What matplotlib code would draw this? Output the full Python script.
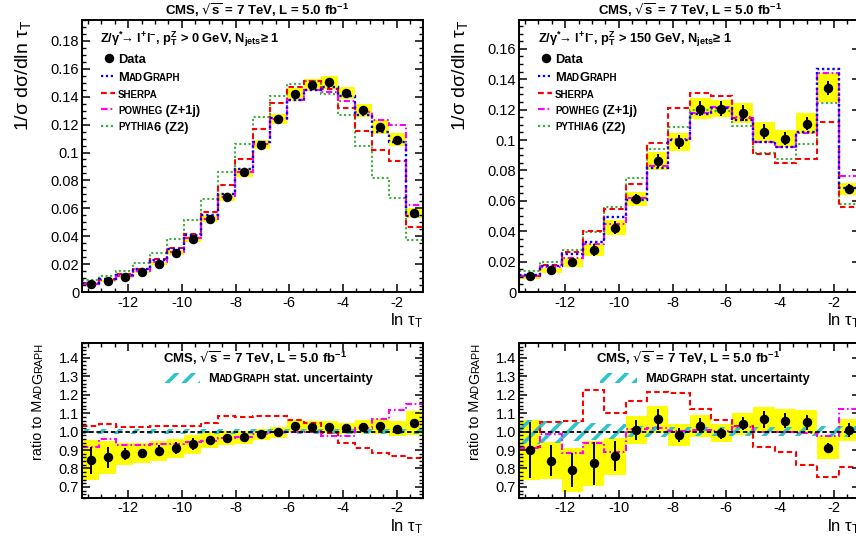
import numpy as np
import matplotlib
matplotlib.use("Agg")
import matplotlib.pyplot as plt
from matplotlib.ticker import MultipleLocator, FuncFormatter, FormatStrFormatter
from matplotlib.transforms import IdentityTransform
from matplotlib.patches import Rectangle
from matplotlib.lines import Line2D

plt.rcParams["font.family"] = ["Liberation Sans", "DejaVu Sans"]
plt.rcParams["mathtext.fontset"] = "dejavusans"
plt.rcParams["mathtext.default"] = "regular"
plt.rcParams["axes.unicode_minus"] = False
plt.rcParams["hatch.linewidth"] = 2.6
plt.rcParams["hatch.color"] = "#2ec4cc"

# binning (ln tau_T)
x_lo, x_hi = -13.72, -1.02

# ---- pT(Z) > 0 GeV, 20 bins ----
data_0 = [0.0055, 0.0077, 0.0108, 0.0143, 0.0203, 0.0282, 0.0378, 0.0526, 0.0681, 0.0858,
          0.1057, 0.1241, 0.1418, 0.1482, 0.1504, 0.1430, 0.1303, 0.1183, 0.1093, 0.0569]
stat_0 = [0.0004, 0.0005, 0.0004, 0.0003, 0.0006, 0.0009, 0.0012, 0.0010, 0.0008, 0.0009,
          0.0010, 0.0012, 0.0014, 0.0015, 0.0015, 0.0014, 0.0013, 0.0012, 0.0011, 0.0009]
sys_0 = [0.13, 0.105, 0.07, 0.062, 0.06, 0.058, 0.055, 0.045, 0.04, 0.035,
         0.032, 0.03, 0.032, 0.03, 0.03, 0.03, 0.035, 0.04, 0.04, 0.062]
mg_0 = [0.0065, 0.0090, 0.0123, 0.0162, 0.0227, 0.0310, 0.0406, 0.0551, 0.0706, 0.0885,
        0.1073, 0.1247, 0.1378, 0.1447, 0.1469, 0.1405, 0.1269, 0.1150, 0.1076, 0.0545]
sherpa_0 = [0.0067, 0.0094, 0.0126, 0.0166, 0.0234, 0.0319, 0.0418, 0.0576, 0.0766, 0.0956,
            0.1165, 0.1353, 0.1468, 0.1512, 0.1454, 0.1321, 0.1155, 0.1018, 0.0936, 0.0466]
powheg_0 = [0.0059, 0.0086, 0.0114, 0.0150, 0.0212, 0.0290, 0.0384, 0.0523, 0.0680, 0.0860,
            0.1059, 0.1241, 0.1378, 0.1447, 0.1432, 0.1370, 0.1294, 0.1231, 0.1200, 0.0627]
pythia_0 = [0.0084, 0.0117, 0.0151, 0.0210, 0.0282, 0.0383, 0.0514, 0.0669, 0.0858, 0.1059,
            0.1255, 0.1406, 0.1494, 0.1511, 0.1422, 0.1267, 0.1047, 0.0818, 0.0674, 0.0371]
# ratio to MadGraph
r_data_0 = [0.845, 0.86, 0.878, 0.885, 0.896, 0.909, 0.931, 0.955, 0.964, 0.969,
            0.985, 0.995, 1.029, 1.024, 1.024, 1.018, 1.027, 1.029, 1.016, 1.045]
r_stat_0 = [0.073, 0.057, 0.034, 0.02, 0.031, 0.032, 0.032, 0.02, 0.012, 0.01,
            0.01, 0.01, 0.01, 0.01, 0.01, 0.01, 0.01, 0.01, 0.01, 0.015]
r_sherpa_0 = [1.03, 1.04, 1.025, 1.025, 1.03, 1.03, 1.03, 1.045, 1.085, 1.08,
              1.085, 1.085, 1.065, 1.045, 0.99, 0.94, 0.91, 0.885, 0.87, 0.855]
r_powheg_0 = [0.915, 0.958, 0.927, 0.927, 0.935, 0.935, 0.945, 0.95, 0.963, 0.972,
              0.987, 0.995, 1.0, 1.0, 0.975, 0.975, 1.02, 1.07, 1.115, 1.15]
r_mgstat_0 = [0.014, 0.013, 0.012, 0.012, 0.012, 0.012, 0.012, 0.012, 0.012, 0.012,
              0.012, 0.012, 0.012, 0.012, 0.012, 0.012, 0.012, 0.012, 0.012, 0.013]

# ---- pT(Z) > 150 GeV, 16 bins ----
data_150 = [0.0103, 0.0142, 0.0195, 0.0278, 0.0424, 0.0612, 0.0863, 0.0988,
            0.1207, 0.1207, 0.1178, 0.1054, 0.1010, 0.1108, 0.1344, 0.0678]
stat_150 = [0.0015, 0.0012, 0.0018, 0.0040, 0.0040, 0.0035, 0.0045, 0.0045,
            0.0050, 0.0050, 0.0050, 0.0050, 0.0045, 0.0045, 0.0045, 0.0030]
sys_150 = [0.18, 0.12, 0.15, 0.145, 0.115, 0.075, 0.068, 0.062,
           0.058, 0.048, 0.058, 0.064, 0.058, 0.061, 0.07, 0.06]
mg_150 = [0.0113, 0.0168, 0.0249, 0.0332, 0.0496, 0.0608, 0.0813, 0.1003,
          0.1174, 0.1210, 0.1130, 0.0988, 0.0955, 0.1053, 0.1469, 0.0686]
sherpa_150 = [0.0105, 0.0175, 0.0260, 0.0400, 0.0544, 0.0712, 0.0981, 0.1210,
              0.1311, 0.1289, 0.1147, 0.0905, 0.0852, 0.0876, 0.1119, 0.0561]
powheg_150 = [0.0103, 0.0166, 0.0223, 0.0317, 0.0445, 0.0618, 0.0828, 0.1005,
              0.1180, 0.1217, 0.1150, 0.0990, 0.0952, 0.1045, 0.1440, 0.0763]
pythia_150 = [0.0135, 0.0197, 0.0277, 0.0397, 0.0561, 0.0748, 0.0938, 0.1086,
              0.1195, 0.1190, 0.1093, 0.0916, 0.0872, 0.0977, 0.1246, 0.0579]
r_data_150 = [0.90, 0.842, 0.79, 0.827, 0.867, 1.009, 1.067, 0.982,
              1.031, 0.991, 1.042, 1.067, 1.06, 1.051, 0.913, 1.009]
r_stat_150 = [0.15, 0.085, 0.093, 0.115, 0.08, 0.055, 0.056, 0.04,
              0.04, 0.03, 0.035, 0.045, 0.04, 0.04, 0.025, 0.04]
r_sherpa_150 = [0.915, 1.05, 1.055, 1.225, 1.10, 1.165, 1.215, 1.21,
                1.12, 1.065, 1.03, 0.918, 0.89, 0.82, 0.755, 0.81]
r_powheg_150 = [0.91, 0.985, 0.885, 0.94, 0.89, 1.015, 1.02, 1.005,
                1.01, 1.005, 1.025, 1.0, 0.995, 0.99, 0.977, 1.12]
r_mgstat_150 = [0.065, 0.06, 0.05, 0.045, 0.04, 0.03, 0.028, 0.025,
                0.025, 0.025, 0.025, 0.025, 0.025, 0.025, 0.03, 0.03]

YELLOW = "#ffff00"
BLUE = "#0000ff"
RED = "#ff0000"
MAGENTA = "#ff00ff"
GREEN = "#3fae3f"
CYAN = "#2ec4cc"
ls_mg = (0, (1, 1.2))
ls_sh = (0, (2.6, 1.6))
ls_pw = (0, (3, 1.3, 0.8, 1.3))
ls_py = (0, (1, 1.2))

W, H = 856, 538
fig = plt.figure(figsize=(W / 100, H / 100), dpi=100)

ax_tl = fig.add_axes([82 / W, 1 - 292 / H, 341 / W, 272 / H])
ax_tr = fig.add_axes([519 / W, 1 - 292 / H, 341 / W, 272 / H])
ax_bl = fig.add_axes([82 / W, 1 - 498 / H, 341 / W, 155 / H])
ax_br = fig.add_axes([519 / W, 1 - 498 / H, 341 / W, 155 / H])

gfmt = FuncFormatter(lambda v, p: f"{v:g}")


def style(ax, ylim, ymaj, ymin, bottom):
    ax.set_xlim(x_lo, x_hi)
    ax.set_ylim(*ylim)
    ax.xaxis.set_major_locator(MultipleLocator(2))
    ax.xaxis.set_minor_locator(MultipleLocator(0.5))
    ax.yaxis.set_major_locator(MultipleLocator(ymaj))
    ax.yaxis.set_minor_locator(MultipleLocator(ymin))
    ax.xaxis.set_major_formatter(gfmt)
    if bottom:
        ax.yaxis.set_major_formatter(FormatStrFormatter("%.1f"))
    else:
        ax.yaxis.set_major_formatter(gfmt)
    ax.tick_params(which="both", direction="in", top=True, right=True, labelsize=10.5)
    ax.tick_params(which="major", length=6, width=1.1)
    ax.tick_params(which="minor", length=3, width=1.0)
    ax.tick_params(axis="x", pad=2.5 if bottom else 3)
    ax.tick_params(axis="y", pad=2)
    for sp in ax.spines.values():
        sp.set_linewidth(1.4)


def top_panel(ax, data, stat, sys, mg, sh, pw, py):
    d = np.array(data)
    s = np.array(sys)
    edges = np.linspace(x_lo, x_hi, len(d) + 1)
    cen = 0.5 * (edges[1:] + edges[:-1])
    ax.stairs(d * (1 + s), edges, baseline=d * (1 - s), fill=True, color=YELLOW, lw=0)
    ax.stairs(py, edges, baseline=None, color=GREEN, ls=ls_py, lw=1.5)
    ax.stairs(sh, edges, baseline=None, color=RED, ls=ls_sh, lw=1.5)
    ax.stairs(pw, edges, baseline=None, color=MAGENTA, ls=ls_pw, lw=1.5)
    ax.stairs(mg, edges, baseline=None, color=BLUE, ls=ls_mg, lw=1.7)
    ax.errorbar(cen, d, yerr=stat, fmt="o", color="k", ms=5.8, elinewidth=1.4, capsize=0)


def ratio_panel(ax, r_data, r_stat, sys, r_sh, r_pw, r_mgstat):
    d = np.array(r_data)
    s = np.array(sys)
    h = np.array(r_mgstat)
    edges = np.linspace(x_lo, x_hi, len(d) + 1)
    cen = 0.5 * (edges[1:] + edges[:-1])
    ax.stairs(d * (1 + s), edges, baseline=d * (1 - s), fill=True, color=YELLOW, lw=0)
    ax.stairs(1 + h, edges, baseline=1 - h, fill=True, facecolor="none",
              edgecolor=CYAN, hatch="//", lw=0)
    ax.axhline(1.0, color="k", ls=(0, (2.5, 1.5)), lw=1.3)
    ax.stairs(r_sh, edges, baseline=None, color=RED, ls=ls_sh, lw=1.5)
    ax.stairs(r_pw, edges, baseline=None, color=MAGENTA, ls=ls_pw, lw=1.5)
    ax.errorbar(cen, d, yerr=r_stat, fmt="o", color="k", ms=5.8, elinewidth=1.4, capsize=0)


top_panel(ax_tl, data_0, stat_0, sys_0, mg_0, sherpa_0, powheg_0, pythia_0)
top_panel(ax_tr, data_150, stat_150, sys_150, mg_150, sherpa_150, powheg_150, pythia_150)
ratio_panel(ax_bl, r_data_0, r_stat_0, sys_0, r_sherpa_0, r_powheg_0, r_mgstat_0)
ratio_panel(ax_br, r_data_150, r_stat_150, sys_150, r_sherpa_150, r_powheg_150, r_mgstat_150)

style(ax_tl, (0, 0.195), 0.02, 0.005, False)
style(ax_tr, (0, 0.179), 0.02, 0.005, False)
style(ax_bl, (0.64, 1.48), 0.1, 0.02, True)
style(ax_br, (0.64, 1.48), 0.1, 0.02, True)

renderer = fig.canvas.get_renderer()
PIX = IdentityTransform()


def rich(x, y, pieces, rot=0, align="left", weight="bold"):
    # pieces of (text, size) on one baseline, x/y in pixels from top-left
    ts = [fig.text(0, 0, s, fontsize=fs, fontweight=weight, rotation=rot,
                   rotation_mode="anchor", ha="left", va="baseline", transform=PIX)
          for s, fs in pieces]
    lens = []
    for t in ts:
        bb = t.get_window_extent(renderer)
        lens.append(bb.width if rot == 0 else bb.height)
    pos = x if rot == 0 else H - y
    if align == "right":
        pos -= sum(lens)
    elif align == "center":
        pos -= sum(lens) / 2
    for t, ln in zip(ts, lens):
        t.set_position((pos, H - y) if rot == 0 else (x, pos))
        pos += ln


title = r"CMS, $\sqrt{s}$ = 7 TeV, L = 5.0 fb$^{-1}$"
FS = 9.3
SC = 7.0

for x0, cx, pt in [(82, 257, "0"), (519, 690, "150")]:
    # titles
    fig.text(cx, H - 15, title, transform=PIX, ha="center", va="baseline",
             fontsize=9.5, fontweight="bold")
    fig.text(cx - 2, H - 363, title, transform=PIX, ha="center", va="baseline",
             fontsize=9.5, fontweight="bold")
    # y labels
    fig.text(x0 - 59, H - 20, r"1/σ dσ/dln τ$_{T}$", transform=PIX, rotation=90,
             ha="center", va="top", fontsize=14)
    rich(x0 - 40, 343, [("ratio to M", 10.4), ("AD", 7.8), ("G", 10.4), ("RAPH", 7.8)],
         rot=90, align="right", weight="normal")
    # x labels
    fig.text(x0 + 341, H - 325, r"ln τ$_{T}$", transform=PIX, ha="right",
             va="baseline", fontsize=12)
    fig.text(x0 + 341, H - 531, r"ln τ$_{T}$", transform=PIX, ha="right",
             va="baseline", fontsize=12)

    # top legend
    fig.text(x0 + 18.5, H - 43,
             r"Z/γ$^{*}\!$→ l$^{+}$l$^{-}$, p$_{T}^{Z}$ > " + pt + r" GeV, N$_{jets}$≥ 1",
             transform=PIX, ha="left", va="baseline", fontsize=FS, fontweight="bold")
    fig.add_artist(Line2D([x0 + 27], [H - 58], marker="o", ms=5.8, color="k",
                          transform=PIX))
    tx = x0 + 36
    rich(tx, 63, [("Data", FS)])
    rich(tx, 81, [("M", FS), ("AD", SC), ("G", FS), ("RAPH", SC)])
    rich(tx, 97.5, [("SHERPA", SC)])
    rich(tx, 114, [("POWHEG", SC), (" (Z+1j)", FS)])
    rich(tx, 130.5, [("PYTHIA", SC), ("6 (Z2)", FS)])
    for yy, c, ls in [(76, BLUE, ls_mg), (93, RED, ls_sh), (109, MAGENTA, ls_pw),
                      (126, GREEN, ls_py)]:
        fig.add_artist(Line2D([x0 + 19, x0 + 33], [H - yy, H - yy], color=c, ls=ls,
                              lw=1.6, transform=PIX))

    # ratio legend
    fig.add_artist(Rectangle((x0 + 81, H - 383), 37, 10, facecolor="none",
                             edgecolor=CYAN, hatch="//", lw=0, transform=PIX))
    rich(x0 + 126, 382, [("M", FS), ("AD", SC), ("G", FS), ("RAPH", SC),
                         (" stat. uncertainty", FS)])

fig.savefig("out.png", dpi=100)
